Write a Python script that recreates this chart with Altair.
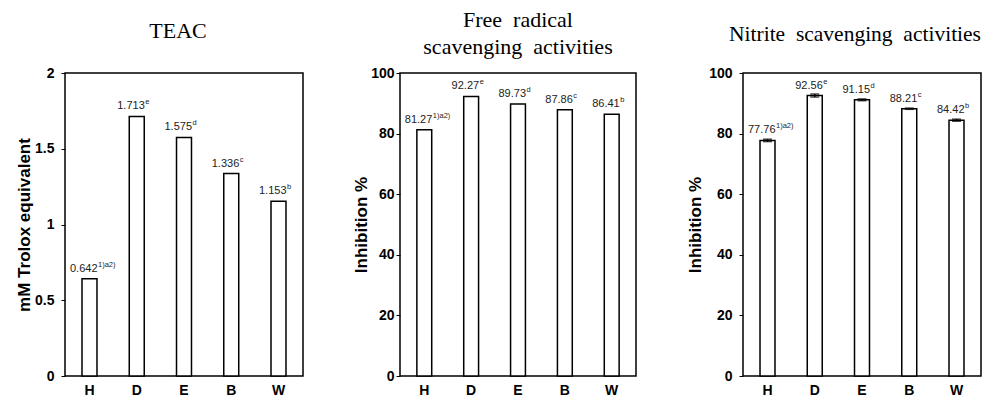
import altair as alt
import pandas as pd

categories = ["H", "D", "E", "B", "W"]

teac_values = [0.642, 1.713, 1.575, 1.336, 1.153]
teac_labels = ["0.642", "1.713", "1.575", "1.336", "1.153"]
teac_sup = ["1)a2)", "e", "d", "c", "b"]

frs_values = [81.27, 92.27, 89.73, 87.86, 86.41]
frs_labels = ["81.27", "92.27", "89.73", "87.86", "86.41"]
frs_sup = ["1)a2)", "e", "d", "c", "b"]

nsa_values = [77.76, 92.56, 91.15, 88.21, 84.42]
nsa_sd = [0.4, 0.5, 0.3, 0.2, 0.35]
nsa_labels = ["77.76", "92.56", "91.15", "88.21", "84.42"]
nsa_sup = ["1)a2)", "e", "d", "c", "b"]

teac_ticks = [0, 0.5, 1, 1.5, 2]
pct_ticks = [0, 20, 40, 60, 80, 100]

SANS = "Liberation Sans"
SERIF = "Liberation Serif"
SP = "\u2002"


def panel(values, labels, sups, domain, ticks, ytitle, title, title_offset,
          label_pad, title_pad, width, sd=None, title_size=22, title_dx=0):
    df = pd.DataFrame({"cat": categories, "val": values, "lab": labels, "sup": sups})
    if sd is not None:
        df["lo"] = [v - s for v, s in zip(values, sd)]
        df["hi"] = [v + s for v, s in zip(values, sd)]
    x = alt.X("cat:N", sort=categories,
              scale=alt.Scale(paddingInner=0.683, paddingOuter=0.36),
              axis=alt.Axis(title=None, labelAngle=0, ticks=False, domain=False,
                            labelPadding=7, labelFontSize=14, labelFontWeight="bold",
                            labelFont=SANS, labelColor="black"))
    y = alt.Y("val:Q", scale=alt.Scale(domain=domain, nice=False, zero=True),
              axis=alt.Axis(values=ticks, title=ytitle, grid=False, domain=False,
                            labelExpr="'' + datum.value", tickSize=4, tickColor="black",
                            labelPadding=label_pad, labelFontSize=14, labelFontWeight="bold",
                            labelFont=SANS, labelColor="black", titleFont=SANS,
                            titleFontSize=17, titleFontWeight="bold", titleColor="black",
                            titlePadding=title_pad))
    base = alt.Chart(df)
    bars = base.mark_bar(fill="white", stroke="black", strokeWidth=1.5).encode(x=x, y=y)
    text = base.mark_text(align="right", baseline="alphabetic", dx=8, dy=-7,
                          fontSize=11, font=SANS, color="#222").encode(x=x, y=y, text="lab:N")
    sup = base.mark_text(align="left", baseline="alphabetic", dx=8.5, dy=-12,
                         fontSize=7.5, font=SANS, color="#222").encode(x=x, y=y, text="sup:N")
    layers = [bars]
    if sd is not None:
        rule = base.mark_rule(color="black", strokeWidth=1.5).encode(x=x, y="lo:Q", y2="hi:Q")
        cap_lo = base.mark_tick(color="black", thickness=1.5, size=9).encode(x=x, y="lo:Q")
        cap_hi = base.mark_tick(color="black", thickness=1.5, size=9).encode(x=x, y="hi:Q")
        layers += [rule, cap_lo, cap_hi]
    layers += [text, sup]
    return alt.layer(*layers).properties(
        width=width, height=303,
        title=alt.TitleParams(text=title, font=SERIF, fontSize=title_size, fontWeight="normal",
                              color="black", offset=title_offset, anchor="middle",
                              baseline="alphabetic", lineHeight=27, dx=title_dx))


p1 = panel(teac_values, teac_labels, teac_sup, [0, 2], teac_ticks,
           "mM Trolox equivalent", "TEAC", 6, 7, 1, 238, title_dx=-6)
p2 = panel(frs_values, frs_labels, frs_sup, [0, 100], pct_ticks,
           "Inhibition %", ["Free" + SP + "radical", "scavenging" + SP + "activities"], -10,
           2, 0, 236)
p3 = panel(nsa_values, nsa_labels, nsa_sup, [0, 100], pct_ticks,
           "Inhibition %", "Nitrite" + SP + "scavenging" + SP + "activities", 4,
           7, 4, 238, sd=nsa_sd, title_size=21.5, title_dx=-7)

chart = alt.hconcat(alt.hconcat(p1, p2, spacing=47), p3, spacing=48).properties(
    padding={"left": 6, "top": 0, "right": 0, "bottom": 0}
).configure_view(stroke="black", strokeWidth=1.5)

chart.save("out.html", embed_options={"renderer": "svg", "actions": False})
